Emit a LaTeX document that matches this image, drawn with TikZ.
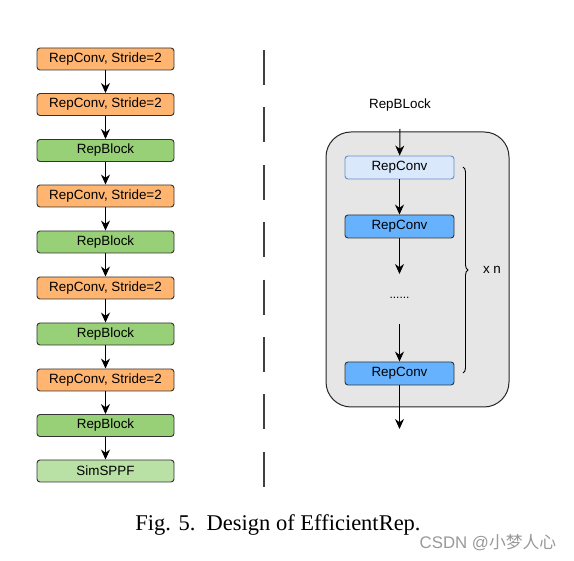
\documentclass[tikz,border=0pt]{standalone}
\usepackage{fontspec}
\setmainfont{Liberation Serif}
\newfontfamily\boxfont{Liberation Sans}
\newfontfamily\cjkfont{Noto Sans CJK SC}
\usetikzlibrary{arrows.meta,decorations.pathreplacing}

\definecolor{convorange}{HTML}{FFB570}
\definecolor{blockgreen}{HTML}{97D077}
\definecolor{sppfgreen}{HTML}{B9E0A5}
\definecolor{lightblue}{HTML}{DAE8FC}
\definecolor{lightblueline}{HTML}{6C8EBF}
\definecolor{convblue}{HTML}{66B2FF}
\definecolor{boxgray}{HTML}{E6E6E6}

\tikzset{
    layer/.style={draw=black!80, line width=0.9pt, rounded corners=3pt, minimum width=137pt, minimum height=22pt, inner sep=0pt, font=\boxfont\fontsize{13.4}{15}\selectfont},
    conv/.style={layer, minimum width=109pt, minimum height=23pt},
    link/.style={line width=1pt, -{Stealth[length=10pt,width=9pt]}}
}

\begin{document}
\begin{tikzpicture}[x=1pt,y=-1pt]
    \useasboundingbox (0,0) rectangle (574,561);
    \fill[white] (0,0) rectangle (574,561);

    \node[layer, fill=convorange] (b1) at (105.5,59) {RepConv, Stride=2};
    \node[layer, fill=convorange] (b2) at (105.5,104.5) {RepConv, Stride=2};
    \node[layer, fill=blockgreen] (b3) at (105.5,150.5) {RepBlock};
    \node[layer, fill=convorange] (b4) at (105.5,196) {RepConv, Stride=2};
    \node[layer, fill=blockgreen] (b5) at (105.5,242) {RepBlock};
    \node[layer, fill=convorange] (b6) at (105.5,288) {RepConv, Stride=2};
    \node[layer, fill=blockgreen] (b7) at (105.5,334) {RepBlock};
    \node[layer, fill=convorange] (b8) at (105.5,380) {RepConv, Stride=2};
    \node[layer, fill=blockgreen] (b9) at (105.5,425.5) {RepBlock};
    \node[layer, fill=sppfgreen] (b10) at (105.5,471) {SimSPPF};
    \foreach \i [evaluate=\i as \j using int(\i+1)] in {1,...,9}
        \draw[link] (b\i) -- (b\j);

    \draw[black!75, line width=1.3pt, dash pattern=on 35pt off 22.4pt] (264,50) -- (264,487);

    \filldraw[fill=boxgray, draw=black!85, line width=1pt, rounded corners=25pt] (326,132) rectangle (509,407);
    \node[font=\boxfont\fontsize{13.4}{15}\selectfont] (title) at (400,105) {RepBLock};
    \coordinate (in) at (400,129);
    \node[conv, fill=lightblue, draw=lightblueline] (rc1) at (399.5,167.5) {RepConv};
    \node[conv, fill=convblue] (rc2) at (399.5,226.5) {RepConv};
    \coordinate (d1) at (399.5,274);
    \node[font=\boxfont\fontsize{12}{14}\selectfont] (dots) at (399.5,298) {......};
    \coordinate (d2) at (399.5,324);
    \node[conv, fill=convblue] (rc3) at (399.5,373.5) {RepConv};
    \coordinate (out) at (399.5,429);
    \draw[link] (in) -- (rc1);
    \draw[link] (rc1) -- (rc2);
    \draw[link] (rc2) -- (d1);
    \draw[link] (d2) -- (rc3);
    \draw[link] (rc3) -- (out);

    \draw[line width=0.9pt, decorate, decoration={brace, amplitude=5pt}] (463,167) -- (463,373);
    \node[font=\boxfont\fontsize{13.4}{15}\selectfont] (rep) at (492,270) {x n};

    \node[font=\fontsize{22.5}{26}\selectfont] (caption) at (278,525) {Fig. 5.\ \ Design of EfficientRep.};
    \node[text=black!40, font=\boxfont\fontsize{16.8}{19}\selectfont] (mark) at (488,543) {CSDN @{\cjkfont 小梦人心}};
\end{tikzpicture}
\end{document}
